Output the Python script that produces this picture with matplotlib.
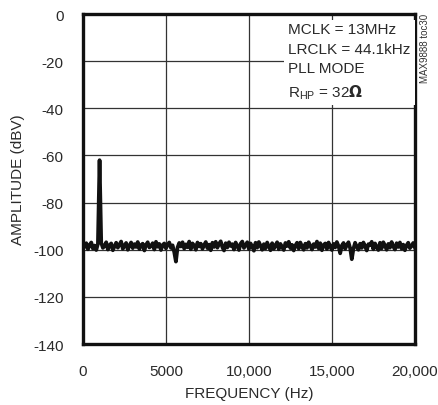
import matplotlib.pyplot as plt
import numpy as np

# FFT spectrum, one point every 100 Hz
freq_hz = np.arange(100, 20001, 100)
amplitude_dbv = [
    -98.5, -97.2, -99.8, -98.0, -96.9, -99.5, -98.2, -100.1, -97.5, -62.0,
    -97.0, -99.2, -98.4, -96.8, -99.9, -98.1, -97.3, -100.2, -98.6, -97.0,
    -99.1, -97.8, -96.5, -99.6, -98.3, -97.1, -100.0, -98.2, -96.9, -99.3,
    -97.6, -98.8, -96.7, -99.7, -98.0, -97.4, -100.3, -97.9, -96.8, -99.0,
    -98.5, -97.2, -99.9, -96.6, -98.7, -97.5, -100.1, -98.0, -97.3, -99.4,
    -97.8, -96.9, -99.2, -98.1, -101.0, -105.0, -99.0, -97.1, -98.6, -96.8,
    -99.5, -97.7, -98.9, -96.5, -99.8, -97.3, -98.2, -100.0, -96.9, -98.6,
    -97.4, -99.6, -98.0, -96.7, -99.3, -97.8, -100.2, -97.0, -98.8, -96.6,
    -99.1, -97.5, -96.4, -98.9, -100.3, -97.2, -99.0, -96.8, -98.4, -97.6,
    -99.9, -96.9, -98.3, -100.1, -97.4, -96.5, -99.2, -98.0, -96.8, -99.7,
    -97.3, -98.6, -100.4, -97.0, -99.1, -96.7, -98.2, -100.0, -97.6, -99.4,
    -96.9, -98.5, -100.2, -97.2, -99.6, -98.1, -96.8, -99.8, -97.5, -98.9,
    -100.1, -97.1, -98.4, -96.6, -99.3, -97.9, -100.3, -98.2, -97.0, -99.5,
    -96.9, -98.7, -100.0, -97.4, -99.2, -96.8, -98.3, -99.9, -97.6, -98.8,
    -96.5, -99.4, -97.2, -100.2, -98.0, -97.3, -99.7, -96.9, -98.6, -100.1,
    -97.5, -99.0, -96.7, -98.4, -101.5, -98.2, -97.1, -99.6, -98.0, -96.8,
    -99.3, -104.0, -99.5, -97.0, -98.7, -100.0, -97.4, -99.2, -96.9, -98.5,
    -100.3, -97.6, -98.1, -96.6, -99.8, -97.3, -98.9, -100.1, -97.0, -99.4,
    -96.8, -98.2, -100.0, -97.5, -99.1, -96.7, -98.6, -99.9, -97.2, -98.8,
    -96.9, -99.5, -97.8, -100.2, -98.1, -97.0, -99.3, -98.4, -97.1, -99.0,
]

x_ticks = [0, 5000, 10000, 15000, 20000]
x_tick_labels = ["0", "5000", "10,000", "15,000", "20,000"]
y_ticks = [0, -20, -40, -60, -80, -100, -120, -140]
y_tick_labels = ["0", "-20", "-40", "-60", "-80", "-100", "-120", "-140"]

plt.rcParams['font.family'] = ['Liberation Sans', 'DejaVu Sans']
txt = "#2a2a2a"

fig = plt.figure(figsize=(4.39, 4.06), dpi=100)
ax = fig.add_axes([0.189, 0.150, 0.756, 0.813])

ax.plot(freq_hz, amplitude_dbv, color="#111111", lw=2.7, zorder=3)

ax.set_xlim(0, 20000)
ax.set_ylim(-140, 0)
ax.set_xticks(x_ticks)
ax.set_xticklabels(x_tick_labels)
ax.set_yticks(y_ticks)
ax.set_yticklabels(y_tick_labels)
ax.tick_params(axis="x", length=0, pad=14, labelsize=11, colors=txt)
ax.tick_params(axis="y", length=0, pad=14, labelsize=11, colors=txt)
ax.grid(True, color="#333333", lw=0.9)
for s in ax.spines.values():
    s.set_linewidth(2.4)
    s.set_color("#111111")
ax.set_xlabel("FREQUENCY (Hz)", fontsize=11, color=txt, labelpad=6)
ax.set_ylabel("AMPLITUDE (dBV)", fontsize=11, color=txt, labelpad=6)

ax.text(0.618, 0.975, "MCLK = 13MHz\nLRCLK = 44.1kHz\nPLL MODE\n$\\mathregular{R_{HP}}$ = 32$\\mathbf{\\Omega}$",
        transform=ax.transAxes, ha="left", va="top", fontsize=11, linespacing=1.5,
        color=txt, zorder=4,
        bbox=dict(facecolor="white", edgecolor="none", pad=3))

fig.text(0.968, 0.965, "MAX9888 toc30", rotation=90, ha="center", va="top",
         fontsize=7, color="#333333")

fig.savefig("out.png", dpi=100)
